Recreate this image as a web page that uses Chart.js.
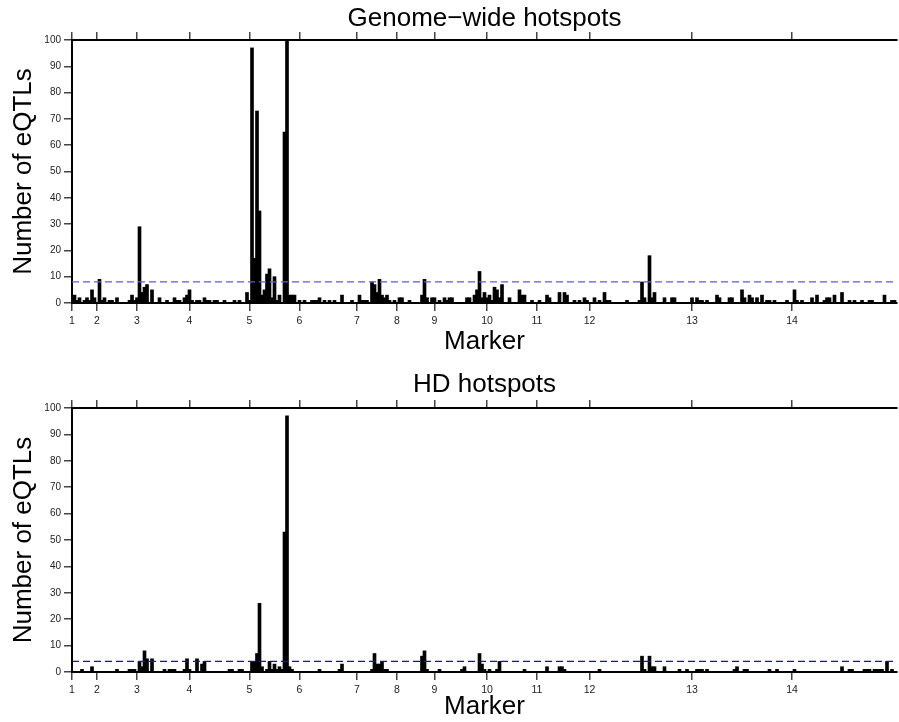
<!DOCTYPE html>
<html>
<head>
<meta charset="utf-8">
<script src="https://cdn.jsdelivr.net/npm/chart.js@4.4.1/dist/chart.umd.min.js"></script>
<style>
  body { margin: 0; background: #fff; }
  canvas { display: block; }
</style>
</head>
<body>
<canvas id="genome-chart" width="899" height="361"></canvas>
<canvas id="hd-chart" width="899" height="361"></canvas>
<script>
// chromosome labels and the marker index where each one starts
const chrLabels = ['1', '2', '3', '4', '5', '6', '7', '8', '9', '10', '11', '12', '13', '14'];
const chrStart = [0, 10, 26, 47, 71, 91, 114, 130, 145, 166, 186, 207, 248, 288];
const markerCount = 330;

// genome-wide hotspots: marker index -> number of eQTLs
const genomeMarkers = [
  1, 2, 3, 5, 6, 7, 8, 9, 11, 12, 13, 15, 16, 18,
  23, 24, 25, 26, 27, 28, 29, 30, 32, 35, 38, 41, 42, 43, 45, 46,
  47, 48, 50, 51, 53, 54, 55, 57, 58, 61, 65, 67, 70,
  71, 72, 73, 74, 75, 76, 77, 78, 79, 80, 81, 82, 83, 85, 86, 87, 88, 89,
  91, 93, 96, 97, 98, 99, 101, 103, 105, 108, 112,
  115, 116, 117, 118, 120, 121, 122, 123, 124, 125, 126, 127, 129,
  131, 132, 135, 140, 141, 142, 144,
  145, 147, 149, 150, 151, 152, 158, 159, 161, 162, 163, 164, 165,
  166, 167, 168, 169, 170, 171, 172, 175, 179, 180, 181, 184,
  187, 190, 191, 195, 197, 198, 201, 203, 205, 206,
  209, 211, 213, 214, 215, 222, 227, 228, 229, 231, 232, 233, 237, 240, 241,
  248, 250, 251, 252, 254, 258, 259, 263, 264, 268, 269, 271, 272, 274, 276, 278, 279, 281, 286,
  289, 290, 292, 296, 298, 301, 302, 303, 305, 308, 311, 313, 316, 319, 320, 325, 328, 329
];
const genomeCounts = [
  3, 1, 2, 1, 2, 1, 5, 2, 9, 1, 2, 1, 1, 2,
  1, 3, 1, 2, 29, 4, 6, 7, 5, 2, 1, 2, 1, 1, 2, 3,
  5, 1, 1, 1, 2, 1, 1, 1, 1, 1, 1, 1, 4,
  1, 97, 17, 73, 35, 3, 5, 11, 13, 2, 10, 1, 3, 65, 100, 3, 3, 3,
  1, 1, 1, 1, 1, 2, 1, 1, 1, 3, 1,
  3, 1, 1, 1, 8, 7, 4, 9, 3, 2, 3, 1, 1,
  2, 2, 1, 3, 9, 2, 2,
  2, 1, 2, 1, 2, 2, 2, 2, 3, 5, 12, 2, 4,
  2, 3, 1, 6, 5, 2, 7, 2, 5, 3, 3, 1,
  1, 3, 2, 4, 4, 3, 1, 1, 2, 1,
  2, 1, 4, 1, 1, 1, 1, 8, 2, 18, 2, 4, 2, 2, 2,
  2, 2, 1, 1, 1, 3, 2, 2, 2, 5, 2, 3, 2, 2, 3, 1, 1, 1, 1,
  5, 1, 1, 2, 3, 1, 2, 2, 3, 4, 1, 1, 1, 1, 1, 3, 1, 1
];
const genomeThreshold = 8;

// HD hotspots
const hdMarkers = [
  4, 8, 18, 23, 24, 25, 27, 28, 29, 30, 32, 37, 39, 40, 41, 45, 46,
  47, 50, 52, 53, 63, 64, 67, 68,
  72, 73, 74, 75, 76, 78, 79, 80, 81, 82, 83, 84, 85, 86, 87, 88,
  99, 107, 108, 120, 121, 122, 123, 124, 125, 126,
  140, 141, 142, 147, 156, 157, 163, 164, 165, 167, 170, 171, 181,
  190, 195, 196, 197, 211, 228, 229, 231, 232, 233, 237, 243, 246,
  250, 251, 252, 254, 265, 266, 269, 270, 279, 282,
  289, 308, 311, 312, 317, 318, 319, 321, 322, 323, 324, 326, 328
];
const hdCounts = [
  1, 2, 1, 1, 1, 1, 4, 2, 8, 5, 5, 1, 1, 1, 1, 1, 5,
  1, 5, 3, 4, 1, 1, 1, 1,
  4, 4, 7, 26, 2, 1, 4, 1, 3, 1, 2, 1, 53, 97, 2, 1,
  1, 1, 3, 1, 7, 3, 3, 4, 1, 1,
  6, 8, 1, 1, 1, 2, 7, 3, 1, 1, 1, 4, 1,
  2, 2, 2, 1, 1, 6, 1, 6, 2, 2, 2, 1, 1,
  1, 1, 1, 1, 1, 2, 1, 1, 1, 1,
  1, 2, 1, 1, 1, 1, 1, 1, 1, 1, 1, 4, 1
];
const hdThreshold = 4;

const fontFamily = '"Liberation Sans", Arial, Helvetica, sans-serif';

const chrTicks = (scale) => {
  scale.ticks = chrStart.map((v) => ({ value: v }));
};

const makeChart = (id, title, markers, counts, threshold, lineColor, cfg) => {
  const bars = markers.map((m, i) => ({ x: m, y: counts[i] }));
  const tickGrid = {
    drawOnChartArea: false,
    drawTicks: true,
    tickLength: 8,
    color: '#444',
    lineWidth: 1.5,
    offset: false,
  };
  const axisBorder = { display: true, color: '#000', width: 2 };

  return new Chart(document.getElementById(id), {
    type: 'bar',
    data: {
      datasets: [
        {
          type: 'line',
          data: [{ x: 0, y: threshold }, { x: markerCount, y: threshold }],
          borderColor: lineColor,
          borderWidth: 1.3,
          borderDash: [7, 4],
          pointRadius: 0,
          order: 0,
        },
        {
          data: bars,
          backgroundColor: '#000',
          borderWidth: 0,
          barThickness: 3,
          order: 1,
        },
      ],
    },
    options: {
      responsive: false,
      animation: false,
      devicePixelRatio: 1,
      layout: { padding: { top: cfg.padTop, left: 0, right: 2, bottom: 0 } },
      plugins: {
        legend: { display: false },
        tooltip: { enabled: false },
        title: {
          display: true,
          fullSize: false, // centre over the plot, not the canvas
          text: title,
          color: '#000',
          font: { family: fontFamily, size: 26, weight: 'normal', lineHeight: 1 },
          padding: cfg.titlePad,
        },
      },
      scales: {
        x: {
          type: 'linear',
          position: 'bottom',
          min: 0,
          max: markerCount,
          offset: false,
          afterBuildTicks: chrTicks,
          afterFit: (s) => { s.height = cfg.xHeight; },
          ticks: {
            callback: (v, i) => chrLabels[i],
            autoSkip: false,
            maxRotation: 0,
            padding: 4,
            color: '#222',
            font: { family: fontFamily, size: 10.5 },
          },
          grid: tickGrid,
          border: axisBorder,
          title: {
            display: true,
            text: 'Marker',
            color: '#000',
            font: { family: fontFamily, size: 26 },
            padding: { top: 0, bottom: cfg.markerPad },
          },
        },
        x2: {
          type: 'linear',
          position: 'top',
          min: 0,
          max: markerCount,
          offset: false,
          afterBuildTicks: chrTicks,
          afterFit: (s) => { s.height = 8; },
          ticks: { display: false },
          grid: tickGrid,
          border: axisBorder,
        },
        y: {
          min: 0,
          max: 100,
          afterFit: (s) => { s.width = 72; },
          ticks: {
            stepSize: 10,
            padding: 3,
            color: '#222',
            font: { family: fontFamily, size: 10 },
          },
          grid: tickGrid,
          border: axisBorder,
          title: {
            display: true,
            text: 'Number of eQTLs',
            color: '#000',
            font: { family: fontFamily, size: 26 },
            padding: { top: 8, bottom: 0 },
          },
        },
      },
    },
  });
};

makeChart('genome-chart', 'Genome\u2212wide hotspots', genomeMarkers, genomeCounts, genomeThreshold, '#5a5af0', {
  padTop: 0,
  titlePad: { top: 6, bottom: 0 },
  xHeight: 58,
  markerPad: 4,
});

makeChart('hd-chart', 'HD hotspots', hdMarkers, hdCounts, hdThreshold, '#1010cc', {
  padTop: 7,
  titlePad: { top: 4, bottom: 2 },
  xHeight: 50,
  markerPad: 0,
});
</script>
</body>
</html>
